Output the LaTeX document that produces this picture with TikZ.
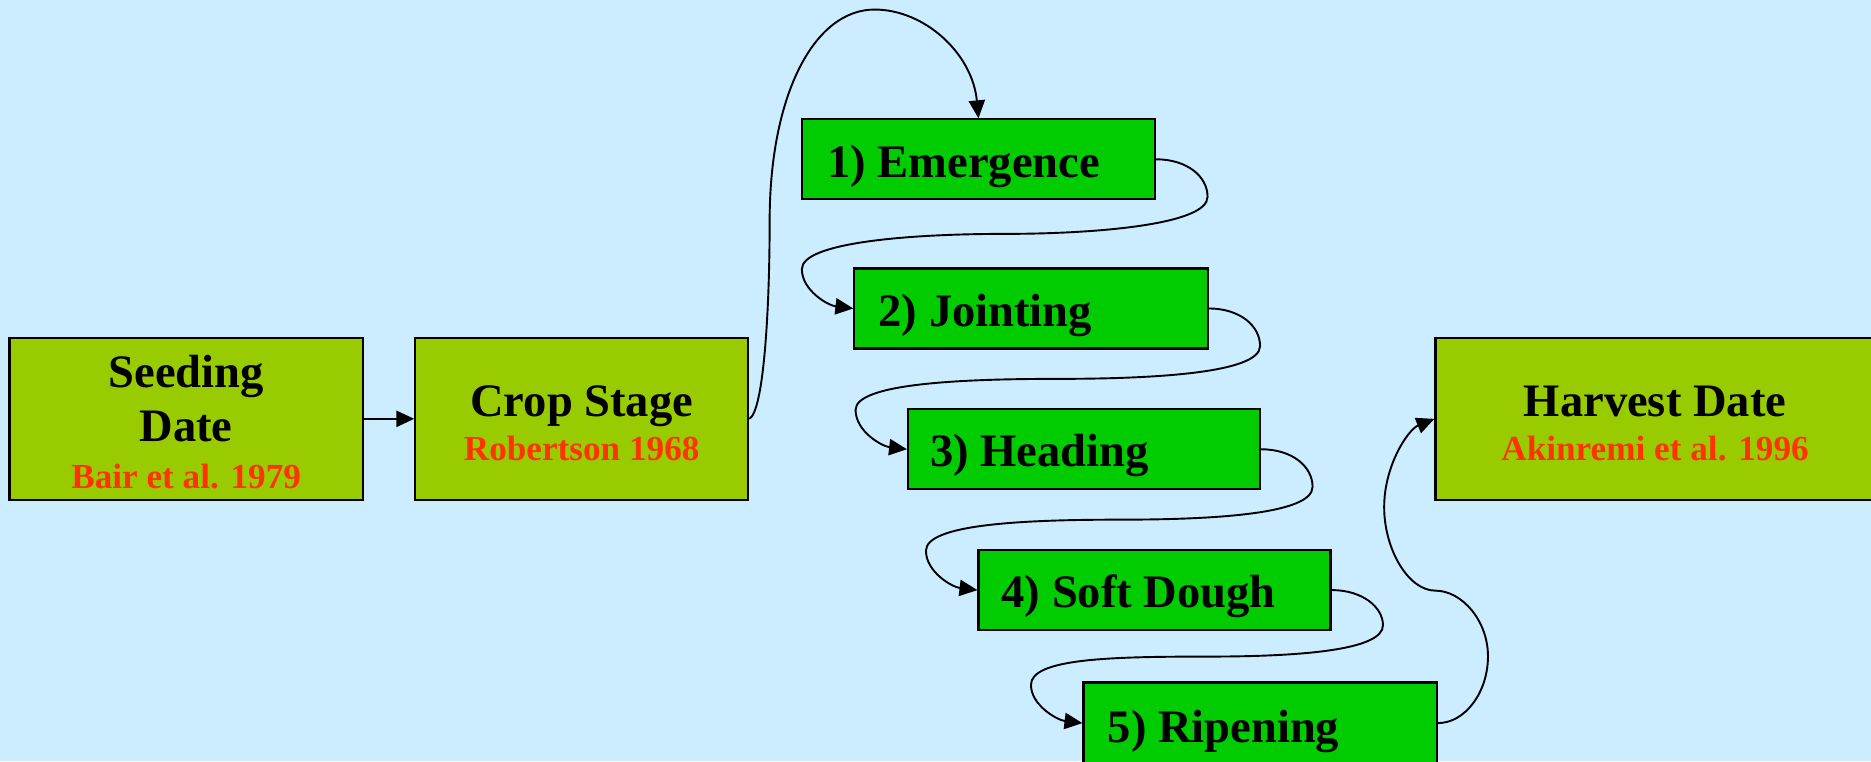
\documentclass[tikz,border=0pt]{standalone}
\usepackage{fontspec}
\setmainfont{Liberation Serif}
\usetikzlibrary{arrows.meta}
\definecolor{bgblue}{HTML}{CCECFF}
\definecolor{olivebox}{HTML}{99CC00}
\definecolor{stagegreen}{HTML}{00CC00}
\definecolor{reftext}{HTML}{FF3300}
\tikzset{
  bigbox/.style={draw=black, fill=olivebox, line width=0.9pt, minimum height=68pt, inner sep=0pt},
  stagebox/.style={draw=black, fill=stagegreen, line width=0.9pt, minimum width=148pt, minimum height=33.5pt, inner sep=0pt},
  maintext/.style={font=\fontsize{19.5pt}{22pt}\selectfont\bfseries, text=black, inner sep=0pt},
  reftxt/.style={font=\fontsize{14.75pt}{17pt}\selectfont\bfseries, text=reftext, inner sep=0pt},
  conn/.style={draw=black, line width=0.8pt, -{Triangle[length=7.5pt,width=6.8pt]}}
}
\begin{document}
\begin{tikzpicture}[x=0.5pt, y=-0.5pt]
\fill[bgblue] (0,0) rectangle (1568,638);
\useasboundingbox (0,0) rectangle (1568,638);
\clip (0,0) rectangle (1568,638);
% boxes
\node[bigbox, minimum width=148pt] (seed) at (156,351) {};
\node[bigbox, minimum width=139.5pt] (crop) at (487.5,351) {};
\node[bigbox, minimum width=184pt] (harv) at (1387,351) {};
\node[stagebox] (emer) at (820,133.5) {};
\node[stagebox] (joint) at (864,258.5) {};
\node[stagebox, minimum width=147.5pt] (head) at (908.5,376.5) {};
\node[stagebox, minimum width=147.5pt] (soft) at (967.5,494.5) {};
\node[stagebox, minimum height=34pt] (ripe) at (1056,606) {};
% texts
\node[maintext, anchor=base] (seedA) at (156,325) {Seeding};
\node[maintext, anchor=base] (seedB) at (156,370) {Date};
\node[reftxt, anchor=base] (seedC) at (156,409) {Bair et al. 1979};
\node[maintext, anchor=base] (cropA) at (487.5,349) {Crop Stage};
\node[reftxt, anchor=base] (cropB) at (487.5,386) {Robertson 1968};
\node[maintext, anchor=base] (harvA) at (1387,349) {Harvest Date};
\node[reftxt, anchor=base] (harvB) at (1387,386) {Akinremi et al. 1996};
\node[maintext, anchor=base west] (emerT) at (693,149) {1) Emergence};
\node[maintext, anchor=base west] (jointT) at (736,274) {2) Jointing};
\node[maintext, anchor=base west] (headT) at (779,391) {3) Heading};
\node[maintext, anchor=base west] (softT) at (839,509) {4) Soft Dough};
\node[maintext, anchor=base west] (ripeT) at (928,622) {5) Ripening};
% connectors
\draw[conn] (seed.east) -- (crop.west);
\draw[conn] (crop.east) .. controls (640,345) and (645,260) .. (645,185)
  .. controls (645,80) and (682,8) .. (733,8)
  .. controls (775,8) and (815,45) .. (emer.north);
\draw[conn] (emer.east) .. controls (995,133.5) and (1012,148) .. (1012,165)
  .. controls (1012,188) and (920,196) .. (842,196)
  .. controls (760,196) and (672,203.5) .. (672,225.5)
  .. controls (672,243.5) and (694,256) .. (joint.west);
\draw[conn] (joint.east) .. controls (1039,258.5) and (1056,273) .. (1056,290)
  .. controls (1056,313) and (964.5,317.5) .. (886.5,317.5)
  .. controls (804.5,317.5) and (717,321.5) .. (717,343.5)
  .. controls (717,361.5) and (739,374) .. (head.west);
\draw[conn] (head.east) .. controls (1083,376.5) and (1100,391) .. (1100,408)
  .. controls (1100,431) and (1016,435.5) .. (938,435.5)
  .. controls (856,435.5) and (776,439.5) .. (776,461.5)
  .. controls (776,479.5) and (798,492) .. (soft.west);
\draw[conn] (soft.east) .. controls (1142,494.5) and (1159,509) .. (1159,524)
  .. controls (1159,545) and (1089.5,550.25) .. (1011.5,550.25)
  .. controls (929.5,550.25) and (864,552) .. (864,574)
  .. controls (864,591) and (886,603.5) .. (ripe.west);
\draw[conn] (ripe.east) .. controls (1228,606) and (1247,580) .. (1247,550)
  .. controls (1247,520) and (1225,495) .. (1203,495)
  .. controls (1180,495) and (1160,460) .. (1160,425)
  .. controls (1160,390) and (1180,360) .. (harv.west);
\end{tikzpicture}
\end{document}
